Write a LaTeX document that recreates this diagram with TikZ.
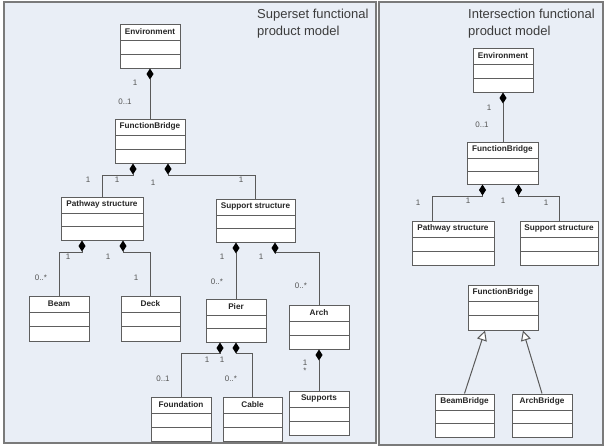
\documentclass[tikz,border=0pt]{standalone}
\usepackage{fontspec}
\setmainfont{Liberation Sans}
\usetikzlibrary{arrows.meta,calc}

\definecolor{panelfill}{HTML}{E9EEF6}
\definecolor{panelline}{HTML}{7A7A7A}
\definecolor{boxc}{HTML}{5E5E5E}
\definecolor{linec}{HTML}{5A5A5A}
\definecolor{labelc}{HTML}{555555}
\definecolor{titlec}{HTML}{3C3C3C}

\tikzset{
  panel/.style={draw=panelline, fill=panelfill, line width=1.1pt},
  paneltitle/.style={font=\fontsize{13}{17}\selectfont, text=titlec, align=left, inner sep=0pt, anchor=west},
  classbox/.style={draw=boxc, fill=white, line width=1pt, inner sep=0pt,
    path picture={
      \draw[boxc, line width=1pt]
        ([yshift=-16pt]path picture bounding box.north west) --
        ([yshift=-16pt]path picture bounding box.north east);
      \draw[boxc, line width=1pt]
        ($([yshift=-16pt]path picture bounding box.north west)!0.5!(path picture bounding box.south west)$) --
        ($([yshift=-16pt]path picture bounding box.north east)!0.5!(path picture bounding box.south east)$);
    }},
  cname/.style={font=\bfseries\fontsize{8.2}{10}\selectfont, text=black!85, inner sep=0pt},
  mult/.style={font=\fontsize{8}{9}\selectfont, text=labelc, inner sep=0pt},
  comp/.style={draw=linec, line width=1pt, {Diamond[length=11pt,width=7pt,black]}-},
  gen/.style={draw=linec, line width=1pt, -{Triangle[length=10pt,width=10pt,fill=white]}}
}

% UML class: name, x, y, width, height, class name
\newcommand{\UMLclass}[6]{%
  \node[classbox, minimum width=#4pt, minimum height=#5pt] (#1) at (#2,#3) {};
  \node[cname] (#1-t) at ([yshift=-8pt]#1.north) {#6};}

\begin{document}
\begin{tikzpicture}[x=1pt,y=-1pt]
\useasboundingbox (0,0) rectangle (605,447);

% the two model panels
\draw[panel] (4,2) rectangle (376,443);
\draw[panel] (379,2) rectangle (603,445);
\node[paneltitle] (title1) at (257,23.5) {Superset functional\\product model};
\node[paneltitle] (title2) at (468,23.5) {Intersection functional\\product model};

% ---- superset model ----
\UMLclass{env}{150}{46}{60}{44}{Environment}
\UMLclass{fb}{150}{141}{70}{44}{FunctionBridge}
\UMLclass{pw}{102}{218.5}{82}{43}{Pathway structure}
\UMLclass{ss}{255.5}{220.5}{79}{43}{Support structure}
\UMLclass{beam}{59}{318.5}{60}{45}{Beam}
\UMLclass{deck}{150.5}{318.5}{59}{45}{Deck}
\UMLclass{pier}{236}{320.5}{60}{43}{Pier}
\UMLclass{arch}{319}{327}{60}{44}{Arch}
\UMLclass{found}{181}{419}{60}{44}{Foundation}
\UMLclass{cable}{252.5}{419}{59}{44}{Cable}
\UMLclass{supports}{319}{413}{60}{44}{Supports}

\draw[comp] (env.south) -- (fb.north);
\draw[comp] ([xshift=-17pt]fb.south) -- ++(0,12) -| (pw.north);
\draw[comp] ([xshift=18pt]fb.south) -- ++(0,12) -| (ss.north);
\draw[comp] ([xshift=-20pt]pw.south) -- ++(0,12) -| (beam.north);
\draw[comp] ([xshift=21pt]pw.south) -- ++(0,12) -| (deck.north);
\draw[comp] ([xshift=-19.5pt]ss.south) -- (pier.north);
\draw[comp] ([xshift=19.5pt]ss.south) -- ++(0,10) -| (arch.north);
\draw[comp] ([xshift=-16pt]pier.south) -- ++(0,11) -| (found.north);
\draw[comp] (pier.south) -- ++(0,11) -| (cable.north);
\draw[comp] (arch.south) -- (supports.north);

\node[mult] (m1) at (135,83) {1};
\node[mult] (m2) at (125,102) {0..1};
\node[mult] (m3) at (88,180) {1};
\node[mult] (m4) at (117,180) {1};
\node[mult] (m5) at (153,183) {1};
\node[mult] (m6) at (241,180) {1};
\node[mult] (m7) at (68,257) {1};
\node[mult] (m8) at (108,257) {1};
\node[mult] (m9) at (41,278) {0..*};
\node[mult] (m10) at (136,278) {1};
\node[mult] (m11) at (222,257) {1};
\node[mult] (m12) at (261,257) {1};
\node[mult] (m13) at (217,282) {0..*};
\node[mult] (m14) at (301,286) {0..*};
\node[mult] (m15) at (207,360) {1};
\node[mult] (m16) at (222,360) {1};
\node[mult] (m17) at (163,379) {0..1};
\node[mult] (m18) at (231,379) {0..*};
\node[mult] (m19) at (305,363) {1};
\node[mult] (m20) at (305,371) {*};

% ---- intersection model ----
\UMLclass{env2}{503}{70}{60}{44}{Environment}
\UMLclass{fb2}{502.5}{163}{71}{42}{FunctionBridge}
\UMLclass{pw2}{453}{243}{82}{44}{Pathway structure}
\UMLclass{ss2}{559}{243}{78}{44}{Support structure}
\UMLclass{fb3}{503}{307.5}{70}{45}{FunctionBridge}
\UMLclass{bb}{464.5}{415.5}{59}{43}{BeamBridge}
\UMLclass{ab}{542}{415.5}{60}{43}{ArchBridge}

\draw[comp] (env2.south) -- (env2.south |- fb2.north);
\draw[comp] ([xshift=-20pt]fb2.south) -- ++(0,12) -| ([xshift=-21pt]pw2.north);
\draw[comp] ([xshift=16pt]fb2.south) -- ++(0,12) -| (ss2.north);
\draw[gen] (bb.north) -- ([xshift=-18pt]fb3.south);
\draw[gen] (ab.north) -- ([xshift=20pt]fb3.south);

\node[mult] (n1) at (489,108) {1};
\node[mult] (n2) at (482,125) {0..1};
\node[mult] (n3) at (418,203) {1};
\node[mult] (n4) at (468,201) {1};
\node[mult] (n5) at (503,201) {1};
\node[mult] (n6) at (546,203) {1};
\end{tikzpicture}
\end{document}
